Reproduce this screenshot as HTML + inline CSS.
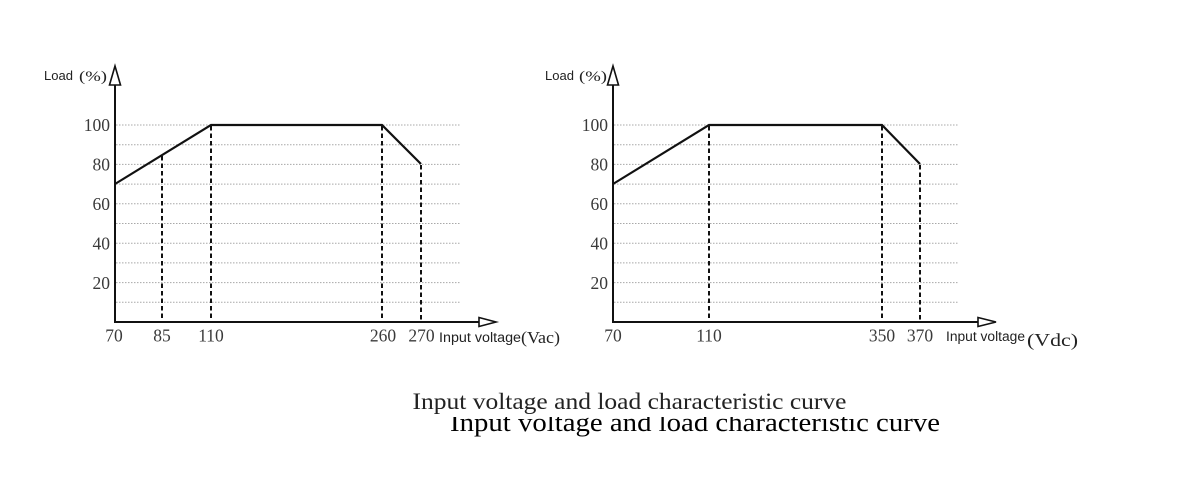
<!DOCTYPE html>
<html><head><meta charset="utf-8"><style>
html,body{margin:0;padding:0;background:#fff;}
svg{display:block;}
.sans{font-family:"Liberation Sans",sans-serif;}
.serif{font-family:"Liberation Serif",serif;}
</style></head><body>
<svg width="1191" height="497" viewBox="0 0 1191 497" xmlns="http://www.w3.org/2000/svg">
<rect width="1191" height="497" fill="#fff"/>
<defs>
<clipPath id="cap2"><rect x="0" y="417" width="1191" height="80"/></clipPath>
</defs>

<!-- LEFT CHART -->
<g>
  <g stroke="#a8a8a8" stroke-width="1" stroke-dasharray="1.5,1.5">
    <line x1="116" y1="125" x2="460" y2="125"/>
    <line x1="116" y1="144.7" x2="460" y2="144.7"/>
    <line x1="116" y1="164.4" x2="460" y2="164.4"/>
    <line x1="116" y1="184.1" x2="460" y2="184.1"/>
    <line x1="116" y1="203.8" x2="460" y2="203.8"/>
    <line x1="116" y1="223.5" x2="460" y2="223.5"/>
    <line x1="116" y1="243.2" x2="460" y2="243.2"/>
    <line x1="116" y1="262.9" x2="460" y2="262.9"/>
    <line x1="116" y1="282.6" x2="460" y2="282.6"/>
    <line x1="116" y1="302.3" x2="460" y2="302.3"/>
  </g>
  <g stroke="#111" stroke-width="2" stroke-dasharray="4.5,3">
    <line x1="162" y1="156" x2="162" y2="321"/>
    <line x1="211" y1="126" x2="211" y2="321"/>
    <line x1="382" y1="126" x2="382" y2="321"/>
    <line x1="421" y1="165" x2="421" y2="321"/>
  </g>
  <line x1="115" y1="84" x2="115" y2="323" stroke="#111" stroke-width="2"/>
  <line x1="114" y1="322" x2="479" y2="322" stroke="#111" stroke-width="2"/>
  <polygon points="115,66 109.5,85 120.5,85" fill="#fff" stroke="#111" stroke-width="1.6"/>
  <polygon points="479,317.5 496,322 479,326.5" fill="#fff" stroke="#111" stroke-width="1.6"/>
  <polyline points="115,184 211,125 382,125 421,164" fill="none" stroke="#111" stroke-width="2.2"/>
  <g class="serif" font-size="17.5" fill="#3a3a3a" text-anchor="end">
    <text x="110" y="131">100</text>
    <text x="110" y="170.5">80</text>
    <text x="110" y="210">60</text>
    <text x="110" y="249.5">40</text>
    <text x="110" y="289">20</text>
  </g>
  <g class="serif" font-size="17.5" fill="#3a3a3a" text-anchor="middle">
    <text x="114" y="341.5">70</text>
    <text x="162" y="341.5">85</text>
    <text x="211" y="341.5">110</text>
    <text x="383" y="341.5">260</text>
    <text x="421.5" y="341.5">270</text>
  </g>
  <text x="439" y="342" class="sans" font-size="13.5" fill="#222" textLength="82" lengthAdjust="spacingAndGlyphs">Input voltage</text>
  <text x="521" y="343" class="serif" font-size="17" fill="#222" textLength="39" lengthAdjust="spacingAndGlyphs">(Vac)</text>
  <text x="44" y="80" class="sans" font-size="12.5" fill="#222" textLength="29" lengthAdjust="spacingAndGlyphs">Load</text>
  <text x="79" y="81" class="serif" font-size="15" fill="#222" textLength="28" lengthAdjust="spacingAndGlyphs">(%)</text>
</g>

<!-- RIGHT CHART -->
<g>
  <g stroke="#a8a8a8" stroke-width="1" stroke-dasharray="1.5,1.5">
    <line x1="614" y1="125" x2="958" y2="125"/>
    <line x1="614" y1="144.7" x2="958" y2="144.7"/>
    <line x1="614" y1="164.4" x2="958" y2="164.4"/>
    <line x1="614" y1="184.1" x2="958" y2="184.1"/>
    <line x1="614" y1="203.8" x2="958" y2="203.8"/>
    <line x1="614" y1="223.5" x2="958" y2="223.5"/>
    <line x1="614" y1="243.2" x2="958" y2="243.2"/>
    <line x1="614" y1="262.9" x2="958" y2="262.9"/>
    <line x1="614" y1="282.6" x2="958" y2="282.6"/>
    <line x1="614" y1="302.3" x2="958" y2="302.3"/>
  </g>
  <g stroke="#111" stroke-width="2" stroke-dasharray="4.5,3">
    <line x1="709" y1="126" x2="709" y2="321"/>
    <line x1="882" y1="126" x2="882" y2="321"/>
    <line x1="920" y1="165" x2="920" y2="321"/>
  </g>
  <line x1="613" y1="84" x2="613" y2="323" stroke="#111" stroke-width="2"/>
  <line x1="612" y1="322" x2="978" y2="322" stroke="#111" stroke-width="2"/>
  <polygon points="613,66 607.5,85 618.5,85" fill="#fff" stroke="#111" stroke-width="1.6"/>
  <polygon points="978,317.5 996,322 978,326.5" fill="#fff" stroke="#111" stroke-width="1.6"/>
  <polyline points="613,184 709,125 882,125 920,164" fill="none" stroke="#111" stroke-width="2.2"/>
  <g class="serif" font-size="17.5" fill="#3a3a3a" text-anchor="end">
    <text x="608" y="131">100</text>
    <text x="608" y="170.5">80</text>
    <text x="608" y="210">60</text>
    <text x="608" y="249.5">40</text>
    <text x="608" y="289">20</text>
  </g>
  <g class="serif" font-size="17.5" fill="#3a3a3a" text-anchor="middle">
    <text x="613" y="341.5">70</text>
    <text x="709" y="341.5">110</text>
    <text x="882" y="341.5">350</text>
    <text x="920" y="341.5">370</text>
  </g>
  <text x="946" y="341" class="sans" font-size="13.5" fill="#222" textLength="79" lengthAdjust="spacingAndGlyphs">Input voltage</text>
  <text x="1027" y="346" class="serif" font-size="18" fill="#222" textLength="51" lengthAdjust="spacingAndGlyphs">(Vdc)</text>
  <text x="545" y="80" class="sans" font-size="12.5" fill="#222" textLength="29" lengthAdjust="spacingAndGlyphs">Load</text>
  <text x="579" y="81" class="serif" font-size="15" fill="#222" textLength="28" lengthAdjust="spacingAndGlyphs">(%)</text>
</g>

<text x="412.5" y="409" class="serif" font-size="23" fill="#222" textLength="434" lengthAdjust="spacingAndGlyphs">Input voltage and load characteristic curve</text>
<g clip-path="url(#cap2)">
<text x="450" y="431" class="serif" font-size="26" fill="#000" textLength="490" lengthAdjust="spacingAndGlyphs">Input voltage and load characteristic curve</text>
</g>
</svg>
</body></html>
